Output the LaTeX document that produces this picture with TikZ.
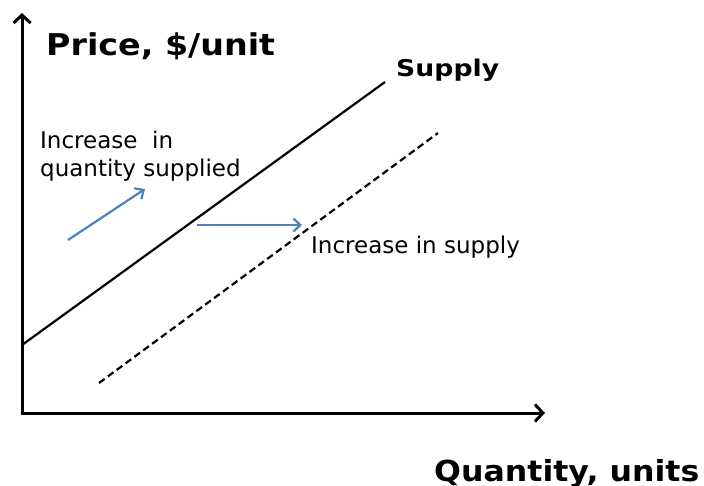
\documentclass[tikz,border=0pt]{standalone}
\usepackage{fontspec}
\usepackage{graphicx}
\setmainfont{DejaVu Sans}
\usetikzlibrary{arrows.meta}
\definecolor{arrowblue}{HTML}{4F81BD}
\begin{document}
\begin{tikzpicture}[x=1pt,y=-1pt,
  axis/.style={line width=3pt,-{Straight Barb[length=8pt,width=17pt,line width=3pt]}},
  curve/.style={line width=2.2pt},
  movearrow/.style={line width=2.2pt,draw=arrowblue,-{Straight Barb[length=7pt,width=13pt,line width=2.2pt]}},
  lbl/.style={inner sep=0pt,anchor=base west,align=left},
  smalll/.style={lbl,font=\fontsize{23}{28}\selectfont}]
\useasboundingbox (0,0) rectangle (704,486);
\coordinate (O) at (22,413);
\coordinate (Ytop) at (22,13);
\coordinate (Xend) at (545,413);
\draw[axis] (22,414.5) -- (Ytop);
\draw[axis] (20.5,413) -- (Xend);
\coordinate (s1) at (22,345);
\coordinate (s2) at (385,82);
\draw[curve] (s1) -- (s2);
\coordinate (d1) at (99,383);
\coordinate (d2) at (438,133);
\draw[curve,dash pattern=on 7pt off 4pt] (d1) -- (d2);
\coordinate (a1) at (68,240);
\coordinate (a2) at (145,189);
\draw[movearrow] (a1) -- (a2);
\coordinate (b1) at (197,225);
\coordinate (b2) at (302,225);
\draw[movearrow] (b1) -- (b2);
\node[lbl,font=\bfseries\fontsize{30}{34}\selectfont] (price) at (46,55.5) {\scalebox{1.11}[1]{Price, \$/unit}};
\node[lbl,font=\bfseries\fontsize{29}{33}\selectfont] (qty) at (434,481) {\scalebox{1.09}[1]{Quantity, units}};
\node[lbl,font=\bfseries\fontsize{23}{27}\selectfont] (sup) at (396,77) {\scalebox{1.16}[1]{Supply}};
\node[smalll] (iqs1) at (40,149) {Increase\ \ in};
\node[smalll] (iqs2) at (40,177) {quantity supplied};
\node[smalll] (is) at (311,254) {Increase in supply};
\end{tikzpicture}
\end{document}
